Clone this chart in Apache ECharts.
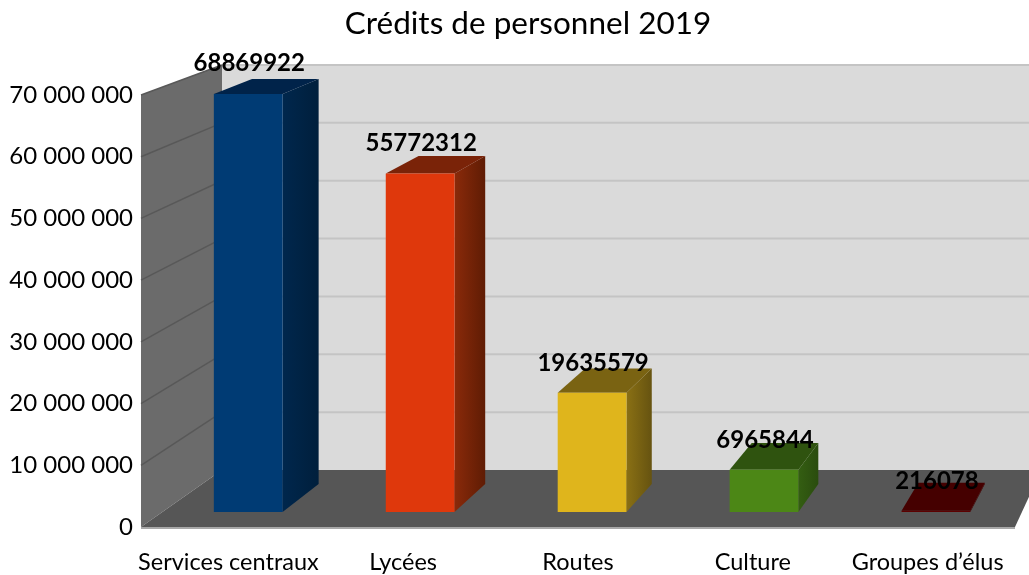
<!DOCTYPE html>
<html>
<head>
<meta charset="utf-8">
<style>
  html, body { margin: 0; padding: 0; background: #fff; }
  #chart { width: 1029px; height: 575px; }
</style>
<script src="https://cdn.jsdelivr.net/npm/echarts@6/dist/echarts.min.js"></script>
</head>
<body>
<div id="chart"></div>
<script>
const titleText = "Crédits de personnel 2019";
const categories = ["Services centraux", "Lycées", "Routes", "Culture", "Groupes d’élus"];
const credits = [68869922, 55772312, 19635579, 6965844, 216078];
const yTicks = [0, 10000000, 20000000, 30000000, 40000000, 50000000, 60000000, 70000000];
const yTickLabels = ["0", "10 000 000", "20 000 000", "30 000 000", "40 000 000", "50 000 000", "60 000 000", "70 000 000"];

const frontColors = ["#003b74", "#df380c", "#dfb51c", "#4c8716", "#5c0000"];
const topColors = ["#00234a", "#7a2308", "#7a6312", "#2f530f", "#450000"];
const sideStart = ["#00274d", "#8a2a0a", "#8a7014", "#345e12", "#450000"];
const sideEnd = ["#001f3c", "#5f1c04", "#665310", "#2a4c0e", "#450000"];

// fake 3d: every point slides towards one vanishing point
const VANISH = [1437, -385];
const WALL_DEPTH = 0.0625;
const BAR_FRONT = 0.0164;
const BAR_BACK = 0.0471;
const BAR_WIDTH = 0.4;

function project(p, depth) {
  return [p[0] + depth * (VANISH[0] - p[0]), p[1] + depth * (VANISH[1] - p[1])];
}

function poly(points, fill) {
  return { type: "polygon", shape: { points }, style: { fill } };
}

function renderRoom(params, api) {
  const cs = params.coordSys;
  const left = cs.x;
  const right = cs.x + cs.width;
  const yTop = api.coord([0, yTicks[yTicks.length - 1]])[1];
  const yBase = api.coord([0, 0])[1];
  const back = (x, y) => project([x, y], WALL_DEPTH);
  const children = [
    poly([back(left, yTop), back(right, yTop), back(right, yBase), back(left, yBase)], "#dadada"),
    poly([[left, yTop], back(left, yTop), back(left, yBase), [left, yBase]], "#6b6b6b"),
  ];
  yTicks.slice(1).forEach((tick) => {
    const y = api.coord([0, tick])[1];
    const a = back(left, y);
    const b = back(right, y);
    children.push({
      type: "polyline",
      shape: { points: [[left, y], a] },
      style: { stroke: "#585858", lineWidth: 1.5, fill: null },
    });
    children.push({
      type: "line",
      shape: { x1: a[0], y1: a[1], x2: b[0], y2: b[1] },
      style: { stroke: "#c4c4c4", lineWidth: 2 },
    });
  });
  children.push(poly([[left, yBase], back(left, yBase), back(right, yBase), [right, yBase]], "#565656"));
  children.push({
    type: "line",
    shape: { x1: left, y1: yBase + 1, x2: right, y2: yBase + 1 },
    style: { stroke: "#a8a8a8", lineWidth: 2 },
  });
  return { type: "group", children };
}

function renderBar(params, api) {
  const i = params.dataIndex;
  const value = api.value(1);
  const center = api.coord([api.value(0), 0])[0];
  const half = (api.size([1, 0])[0] * BAR_WIDTH) / 2;
  const y0 = api.coord([0, 0])[1];
  const y1 = api.coord([0, value])[1];
  const x0 = center - half;
  const x1 = center + half;

  const fa = project([x0, y1], BAR_FRONT);
  const fb = project([x1, y1], BAR_FRONT);
  const fc = project([x1, y0], BAR_FRONT);
  const fd = project([x0, y0], BAR_FRONT);
  const ba = project([x0, y1], BAR_BACK);
  const bb = project([x1, y1], BAR_BACK);
  const bc = project([x1, y0], BAR_BACK);

  const sideFill = {
    type: "linear",
    x: 0, y: 0, x2: 1, y2: 0,
    colorStops: [
      { offset: 0, color: sideStart[i] },
      { offset: 1, color: sideEnd[i] },
    ],
  };

  // labels sit a bit closer to the tall bars
  const labelLift = 44 - (5 * value) / yTicks[yTicks.length - 1];

  return {
    type: "group",
    children: [
      poly([fb, bb, bc, fc], sideFill),
      poly([fa, ba, bb, fb], topColors[i]),
      poly([fa, fb, fc, fd], frontColors[i]),
      {
        type: "text",
        z2: 10,
        style: {
          text: String(value),
          x: project([center, y1], BAR_FRONT)[0] + 1,
          y: y1 - labelLift,
          align: "center",
          verticalAlign: "middle",
          fill: "#000",
          font: "bold 24px Lato",
        },
      },
    ],
  };
}

const chart = echarts.init(document.getElementById("chart"));

chart.setOption({
  animation: false,
  backgroundColor: "#fff",
  title: {
    text: titleText,
    left: 523,
    top: 3,
    textAlign: "center",
    textStyle: { fontFamily: "Lato", fontWeight: "normal", fontSize: 31.5, color: "#000" },
  },
  grid: { left: 141, right: 14, top: 95, bottom: 48 },
  xAxis: {
    type: "category",
    data: categories,
    axisLine: { show: false },
    axisTick: { show: false },
    axisLabel: { margin: 23, fontFamily: "Lato", fontSize: 23.5, color: "#000", interval: 0 },
  },
  yAxis: {
    type: "value",
    min: 0,
    max: 70000000,
    interval: 10000000,
    axisLine: { show: false },
    axisTick: { show: false },
    splitLine: { show: false },
    axisLabel: {
      margin: 8,
      padding: [6, 0, 0, 0],
      fontFamily: "Lato",
      fontSize: 24,
      color: "#000",
      formatter: (value) => yTickLabels[yTicks.indexOf(value)],
    },
  },
  series: [
    {
      type: "custom",
      name: "room",
      silent: true,
      z: 1,
      data: [[0, 0]],
      encode: { x: 0, y: 1 },
      renderItem: renderRoom,
    },
    {
      type: "custom",
      name: "Crédits",
      z: 2,
      data: credits.map((v, i) => [i, v]),
      encode: { x: 0, y: 1 },
      renderItem: renderBar,
    },
  ],
});

window.addEventListener("resize", () => chart.resize());
</script>
</body>
</html>
